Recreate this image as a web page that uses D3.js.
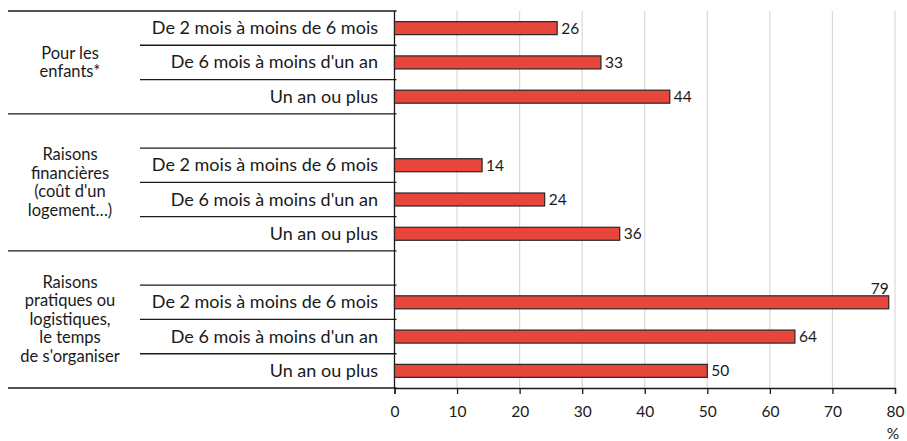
<!DOCTYPE html>
<html><head><meta charset="utf-8">
<script src="https://cdn.jsdelivr.net/npm/d3@7"></script>
<style>body{margin:0;background:#fff;} text{font-family:Lato,"Open Sans",sans-serif;fill:#1a1a1a;}</style>
</head><body><svg id="c" width="907" height="441"></svg>
<script>
const groups = [
  ["Pour les","enfants*"],
  ["Raisons","financières","(coût d'un","logement…)"],
  ["Raisons","pratiques ou","logistiques,","le temps","de s'organiser"]
];
const categories = ["De 2 mois à moins de 6 mois","De 6 mois à moins d'un an","Un an ou plus"];
const values = [
  [26,33,44],
  [14,24,36],
  [79,64,50]
];
const xTicks = [0,10,20,30,40,50,60,70,80];
const unit = "%";

const svg = d3.select("#c");
const FS = 18, GS = 16.5, NS = 15.5;
const x = d3.scaleLinear().domain([0,80]).range([394.5,895]);
const slots = [];
groups.forEach((g,gi)=>{
  if(gi>0) slots.push({blank:true,g:gi,key:"b"+gi});
  categories.forEach((c,ci)=>slots.push({g:gi,c:ci,key:gi+"-"+ci,label:c,v:values[gi][ci]}));
});
const y = d3.scaleBand().domain(slots.map(s=>s.key)).range([11,388]).padding(0);
const bh = 13;

svg.append("g").selectAll("line").data(xTicks.slice(1)).join("line")
  .attr("x1",d=>x(d)).attr("x2",d=>x(d)).attr("y1",11).attr("y2",388)
  .attr("stroke","#d9d9d9").attr("stroke-width",1.2);

const ax = svg.append("g").attr("transform","translate(0,388)")
  .call(d3.axisBottom(x).tickValues(xTicks).tickSize(6).tickPadding(12));
ax.select(".domain").attr("stroke","#1a1a1a").attr("stroke-width",1.3);
ax.selectAll(".tick line").attr("stroke","#1a1a1a").attr("stroke-width",1.3);
ax.selectAll(".tick text").style("font-family","Lato,sans-serif").style("font-size",NS+"px").attr("fill","#1a1a1a");
svg.append("text").attr("x",x(80)-2).attr("y",439).attr("text-anchor","middle").style("font-size",NS+"px").text(unit);

svg.append("line").attr("x1",x(0)).attr("x2",x(0)).attr("y1",11).attr("y2",388).attr("stroke","#1a1a1a").attr("stroke-width",1.3);

const boundaries = [];
slots.forEach((s,i)=>{ boundaries.push({y:y(s.key)+y.bandwidth(), groupEnd: (i===slots.length-1)|| slots[i+1].blank}); });
boundaries.unshift({y:11,groupEnd:true});
svg.append("g").selectAll("line").data(boundaries).join("line")
  .attr("x1",d=>d.groupEnd?8:140).attr("x2",x(0)+2).attr("y1",d=>d.y).attr("y2",d=>d.y)
  .attr("stroke","#1a1a1a").attr("stroke-width",1.3);

const rows = slots.filter(s=>!s.blank);
svg.append("g").selectAll("rect").data(rows).join("rect")
  .attr("x",x(0)).attr("y",d=>y(d.key)+y.bandwidth()/2-bh/2)
  .attr("width",d=>x(d.v)-x(0)).attr("height",bh)
  .attr("fill","#e8453b").attr("stroke","#262626").attr("stroke-width",1.2);
const over = d => x(d.v)+20>907;
svg.append("g").selectAll("text").data(rows).join("text")
  .attr("x",d=> over(d) ? x(d.v) : x(d.v)+4)
  .attr("y",d=> over(d) ? y(d.key)+y.bandwidth()/2-bh/2-2 : y(d.key)+y.bandwidth()/2+5.5)
  .attr("text-anchor",d=> over(d) ? "end":"start")
  .style("font-size",NS+"px").text(d=>d.v);
svg.append("g").selectAll("text").data(rows).join("text")
  .attr("x",378).attr("y",d=>y(d.key)+y.bandwidth()/2+6).attr("text-anchor","end")
  .style("font-size",FS+"px").text(d=>d.label);
const lh = 18.5;
groups.forEach((g,gi)=>{
  const first = gi===0 ? y(gi+"-0") : y("b"+gi);
  const last = y(gi+"-2")+y.bandwidth();
  const cy = (first+last)/2;
  const t = svg.append("text").attr("text-anchor","middle").style("font-size",GS+"px");
  g.forEach((line,li)=>{
    t.append("tspan").attr("x",70).attr("y",cy+(li-(g.length-1)/2)*lh+5.5).text(line);
  });
});
</script></body></html>
